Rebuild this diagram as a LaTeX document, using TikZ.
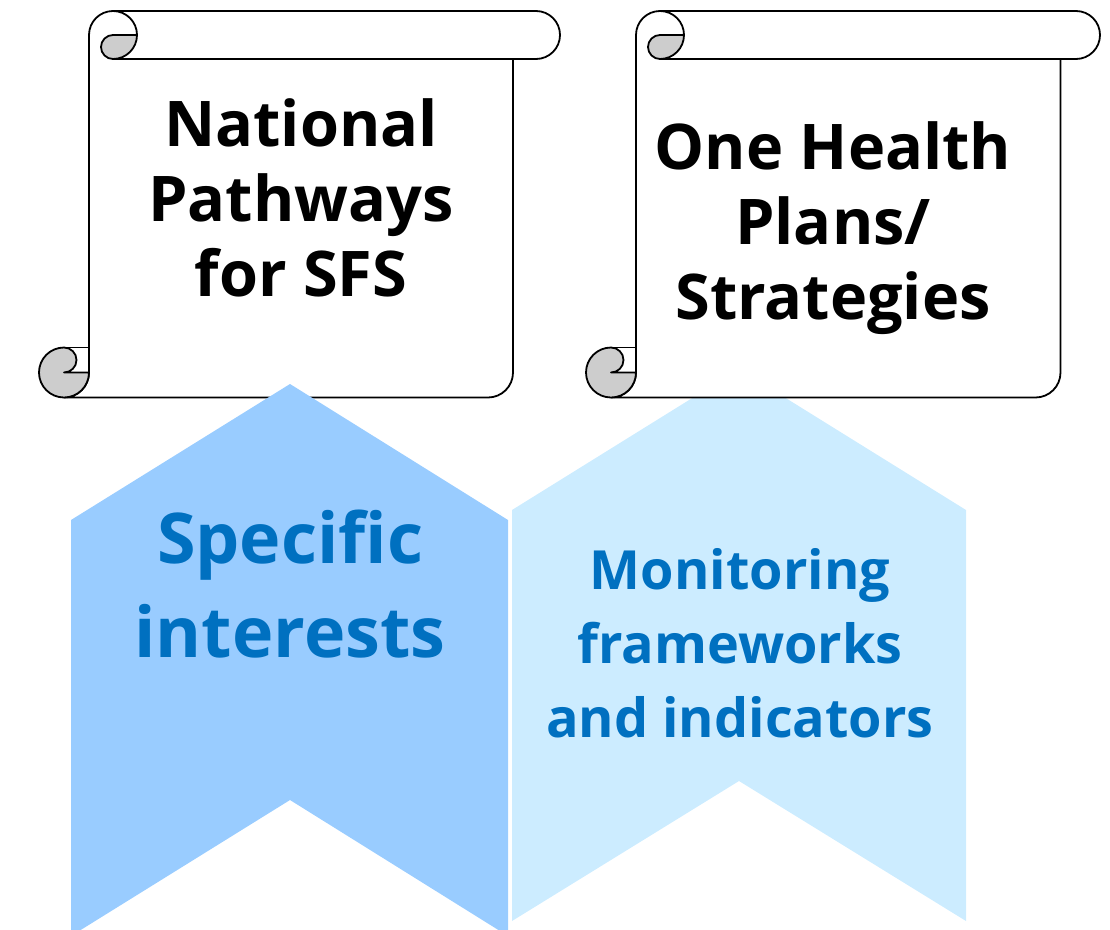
\documentclass[tikz,border=0pt]{standalone}
\usepackage{fontspec}
\setmainfont{Open Sans}
\usepackage{tikz}
\definecolor{RollGrey}{HTML}{CDCDCD}
\definecolor{ChevronBlue}{HTML}{99CCFF}
\definecolor{ChevronPale}{HTML}{CCECFF}
\definecolor{TextBlue}{HTML}{0070C0}

% scroll: #1 left edge of the sheet, #2 right edge, #3 end of the top roll
\newcommand{\scrollshape}[3]{%
  \draw[scrollline, fill=white] (#1,35) arc[start angle=180, end angle=270, radius=24]
    -- (#3-24,11) arc[start angle=270, end angle=450, radius=24]
    -- (#2,59) -- (#2,372.5) arc[start angle=0, end angle=90, radius=25]
    -- (#1-25,397.5) arc[start angle=90, end angle=0, radius=25] -- cycle;
  \draw[scrollline] (#2,59) -- (#1+24,59);
  \draw[scrollline] (#1+24,11) arc[start angle=270, end angle=360, radius=24];
  \draw[scrollline, fill=RollGrey] (#1+24,35) -- (#1+48,35)
    arc[start angle=0, end angle=90, radius=24]
    arc[start angle=90, end angle=270, radius=12] -- cycle;
  \draw[scrollline, fill=RollGrey] (#1-25,347.5)
    arc[start angle=270, end angle=0, radius=25]
    -- (#1-25,372.5) arc[start angle=90, end angle=-90, radius=12.5] -- cycle;
  \draw[scrollline] (#1-25,347.5) -- (#1,347.5);
}

\begin{document}
\begin{tikzpicture}[
    x=1pt, y=-1pt,
    scrollline/.style={draw=black, line width=1.8pt, line join=round},
    headline/.style={font=\fontsize{63}{75}\selectfont\bfseries, align=center},
    bluetext/.style={text=TextBlue, align=center}
  ]
  \path[use as bounding box, clip] (0,0) rectangle (1110,929);

  \scrollshape{89}{513}{560}
  \fill[ChevronBlue] (71,520) -- (290,384) -- (508,520) -- (508,936) -- (290,800) -- (71,936) -- cycle;
  \fill[ChevronPale] (512,510) -- (739,369) -- (966,510) -- (966,921) -- (739,781) -- (512,921) -- cycle;
  \scrollshape{636}{1060.5}{1100}

  \node[headline] (pathways) at (301,198) {National\\Pathways\\for SFS};
  \node[headline] (plans) at (833,228) {One Health\\Plans/\\Strategies};
  \node[bluetext, font=\fontsize{70}{94}\selectfont\bfseries] (interests) at (290,584) {Specific\\interests};
  \node[bluetext, font=\fontsize{54}{74}\selectfont\bfseries] (monitoring) at (740,643) {Monitoring\\frameworks\\and indicators};
\end{tikzpicture}
\end{document}
